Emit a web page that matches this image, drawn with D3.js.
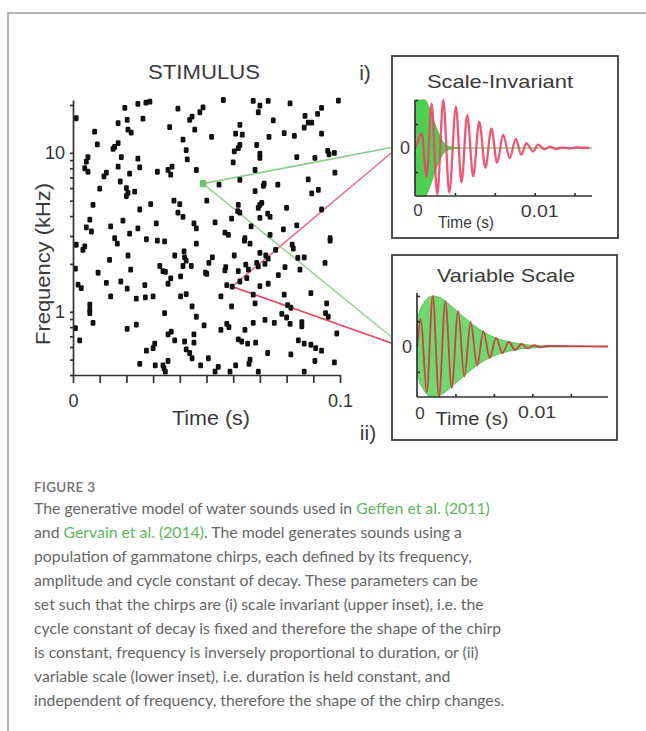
<!DOCTYPE html>
<html lang="en">
<head>
<meta charset="utf-8" />
<title>Figure 3 – gammatone chirp stimulus</title>
<script src="https://cdn.jsdelivr.net/npm/d3@7/dist/d3.min.js"></script>
<style>
  body{margin:0;background:#fff}
  svg{display:block;font-family:"Liberation Sans",Arial,sans-serif}
  .ax path,.ax line{stroke:#333;stroke-width:1.7;fill:none}
  .ax text{fill:#333;font-family:"Liberation Sans",Arial,sans-serif}
  .lbl{fill:#3a3a3a}
  .inset-box{fill:#fff;stroke:#3d3d3d;stroke-width:1.8}
  .caption{font-family:Lato,"Open Sans",sans-serif;font-size:15.8px;font-weight:400;fill:#666}
  .caption .link{fill:#5cb85c}
</style>
</head>
<body>
<svg id="fig" width="646" height="731"></svg>
<script>
// ---- stimulus raster: [time (ms), frequency (kHz)] ----
const stimulus=[
 [1.2,16.5],[19.4,19.2],[24.3,20.3],[27.3,20.7],[28.8,21.0],[26.2,16.4],[20.3,16.1],[16.9,15.4],[20.6,14.0],[21.8,13.4],
 [8.1,13.6],[9.1,11.3],[16.9,11.5],[15.6,10.9],[15.0,10.6],[18.1,9.4],[24.3,9.2],[5.6,9.4],[5.0,8.8],[4.4,8.0],
 [5.6,7.6],[16.9,8.2],[25.0,8.1],[21.2,7.4],[12.5,7.5],[11.6,7.1],[31.6,7.6],[35.6,7.8],[37.1,8.2],[36.6,7.3],
 [17.7,6.6],[10.0,5.95],[20.0,6.0],[20.6,5.6],[20.0,5.35],[23.1,5.7],[7.5,4.7],[25.0,4.4],[29.1,4.75],[37.8,5.0],
 [40.0,4.75],[39.3,4.2],[41.2,3.95],[6.3,3.8],[5.0,3.4],[6.9,3.2],[14.1,3.45],[18.7,3.75],[24.3,3.35],[31.2,3.6],
 [45.3,3.6],[46.2,3.35],[21.2,3.1],[39.3,19.0],[43.7,16.1],[44.6,16.9],[48.7,19.3],[47.5,18.0],[36.2,14.5],[45.6,14.0],
 [41.2,12.1],[42.4,10.4],[42.8,9.1],[46.2,7.8],
 [56.3,21.5],[67.5,21.2],[70.0,19.8],[69.4,18.0],[73.1,21.2],[81.3,20.5],[99.4,21.3],[93.1,19.2],[91.6,17.6],[86.9,17.1],
 [88.1,15.5],[86.6,14.4],[89.4,15.5],[75.0,16.0],[62.5,15.0],[51.9,12.6],[60.9,13.2],[63.4,13.0],[73.4,12.6],[79.1,13.3],
 [82.9,12.8],[93.1,13.2],[62.5,11.2],[61.9,10.7],[68.8,11.2],[60.4,10.2],[70.0,9.9],[70.0,9.3],[95.4,10.3],[95.9,9.8],
 [97.9,10.0],[83.8,9.4],[90.6,9.3],[60.0,8.7],[68.2,7.8],[98.1,7.5],[54.7,6.3],[62.5,6.75],[71.6,6.4],[71.3,6.2],
 [76.7,6.3],[88.1,6.8],[68.2,5.75],[91.9,5.85],[89.4,5.55],[50.1,5.0],[61.9,4.7],[61.7,4.3],[62.5,4.2],[70.0,4.7],
 [70.7,4.85],[69.4,4.5],[80.0,4.5],[93.1,4.4],[72.9,4.15],[73.8,3.95],[70.0,3.9],[59.4,3.85],[53.2,3.65],[66.7,3.45],
 [83.8,3.5],[78.8,3.3],[56.9,3.15],[58.2,3.05],[73.8,3.05],[64.4,2.9],[96.3,2.9],
 [15.6,2.9],[16.6,2.68],[27.5,2.86],[31.6,2.8],[34.3,2.77],[46.2,2.68],[1.2,2.64],[3.7,2.45],[4.4,2.58],[13.7,2.12],
 [20.6,2.26],[38.1,2.26],[41.6,2.4],[41.8,2.2],[42.4,2.1],[41.2,1.94],[0.9,1.87],[9.4,1.76],[21.6,1.84],[32.5,1.94],
 [33.7,1.8],[34.6,1.78],[44.3,1.94],[49.6,1.76],[36.6,1.62],[35.6,1.5],[40.3,1.67],[12.5,1.52],[17.9,1.55],[1.9,1.48],
 [3.1,1.41],[26.9,1.47],[20.3,1.40],[14.1,1.25],[23.7,1.21],[27.1,1.23],[30.0,1.25],[40.3,1.25],[42.4,1.29],[6.3,1.11],
 [6.3,1.03],[6.3,0.98],[44.6,1.08],[7.5,0.85],[34.3,0.98],[46.2,0.93],[49.1,0.82],[0.9,0.79],[20.3,0.78],[23.7,0.83],
 [35.6,0.72],[36.8,0.75],[2.5,0.66],[38.1,0.66],[41.8,0.65],[45.3,0.72],[45.3,0.64],[30.6,0.63],[30.0,0.59],[27.5,0.57],
 [42.4,0.58],[43.7,0.55],[44.6,0.51],[25.0,0.47],[30.8,0.46],[33.7,0.46],[34.1,0.44],[34.6,0.42],[35.6,0.49],[47.8,0.46],
 [64.2,2.8],[66.3,2.68],[82.1,2.64],[82.5,2.5],[96.3,2.8],[52.2,2.2],[50.9,2.03],[60.4,2.26],[70.0,2.35],[72.2,2.26],
 [73.1,2.16],[71.9,2.0],[75.9,2.45],[84.2,2.18],[86.6,2.2],[94.4,2.03],[57.2,1.91],[56.9,1.82],[61.9,1.8],[64.7,1.98],
 [65.7,1.84],[68.8,2.03],[69.4,1.93],[79.4,1.91],[85.0,1.84],[76.9,1.7],[50.1,1.73],[65.1,1.63],[62.5,1.55],[73.1,1.5],
 [70.0,1.45],[57.6,1.47],[59.6,1.44],[55.4,1.25],[59.4,1.08],[67.5,1.28],[68.2,1.13],[79.1,1.28],[89.1,1.31],[80.4,1.1],
 [81.6,1.06],[95.0,1.13],[94.6,0.98],[95.6,0.93],[78.2,0.97],[80.0,0.92],[81.3,0.84],[85.7,0.86],[85.7,0.81],[71.9,0.89],
 [67.5,0.85],[75.4,0.85],[57.6,0.84],[58.4,0.8],[55.4,0.77],[64.4,0.77],[98.8,0.73],[61.9,0.67],[63.2,0.65],[65.4,0.63],
 [68.4,0.64],[84.4,0.66],[86.6,0.63],[89.1,0.62],[90.9,0.59],[93.1,0.57],[72.9,0.55],[81.6,0.54],[50.7,0.51],[66.3,0.5],
 [65.9,0.47],[90.6,0.49],[97.9,0.48],[60.9,0.46],[54.4,0.45],[53.2,0.42],[69.4,0.42],[58.8,0.42],[86.6,0.42]
];
const greenChirp=[48.7,6.4];   // highlighted high-frequency chirp
const redChirp=[59.6,1.44];    // highlighted low-frequency chirp

// ---- upper inset (scale-invariant): time (ms) / amplitude ----
const siRedT=[0.08,0.53,0.93,1.33,1.79,2.27,2.75,3.28,3.73,4.19,4.67,5.15,5.65,6.13,6.59,7.07,7.6,8.08,8.53,8.93,9.47,9.87,10.4,10.8,11.33,11.87,12.4,12.93,14.0];
const siRedA=[0,0.3,-0.6,0.93,-0.97,1.0,-0.93,0.86,-0.72,0.69,-0.59,0.55,-0.41,0.41,-0.31,0.28,-0.21,0.19,-0.14,0.1,-0.07,0.07,-0.03,0.03,-0.02,0.015,-0.01,0.01,0];
const siGreenT=[0,0.13,0.8,1.2,1.6,2.0,2.4,2.93,3.6];
const siGreenA=[0.7,1.0,1.0,0.8,0.5,0.25,0.08,0.02,0];

// ---- lower inset (variable scale) ----
const vsRedT=[0.03,0.31,0.81,1.31,1.83,2.36,2.89,3.42,3.94,4.47,5.0,5.53,6.06,6.58,7.11,7.64,8.17,8.69,9.22,9.75,10.28,10.81,15.9];
const vsRedA=[0,0.55,-0.9,1.0,-1.0,0.9,-0.82,0.7,-0.6,0.48,-0.38,0.3,-0.23,0.17,-0.13,0.09,-0.07,0.05,-0.035,0.025,-0.015,0.01,0];
const vsGreenT=[0,0.11,0.53,0.94,1.36,2.06,2.75,3.58,4.42,5.25,6.08,6.92,7.75,8.58,9.42,10.25,11.36,12.5];
const vsGreenA=[0,0.6,0.85,0.97,1.0,0.95,0.82,0.65,0.48,0.33,0.22,0.14,0.09,0.05,0.03,0.015,0.005,0];

const freqTicks=[0.4,0.5,0.6,0.7,0.8,0.9,1,2,3,4,5,6,7,8,9,10,20];
const timeTicks=d3.range(0,11).map(i=>i/100);
const insetTicks=[0.0032,0.0064,0.0096,0.0128];

const captionLines=[
 [["The generative model of water sounds used in ",0],["Geffen et al. (2011)",1]],
 [["and ",0],["Gervain et al. (2014)",1],[". The model generates sounds using a",0]],
 [["population of gammatone chirps, each defined by its frequency,",0]],
 [["amplitude and cycle constant of decay. These parameters can be",0]],
 [["set such that the chirps are (i) scale invariant (upper inset), i.e. the",0]],
 [["cycle constant of decay is fixed and therefore the shape of the chirp",0]],
 [["is constant, frequency is inversely proportional to duration, or (ii)",0]],
 [["variable scale (lower inset), i.e. duration is held constant, and",0]],
 [["independent of frequency, therefore the shape of the chirp changes.",0]]
];

const svg=d3.select('#fig');

/* ---------- outer frame ---------- */
svg.append('path').attr('d','M8,731V13H646').attr('fill','none').attr('stroke','#9a9a9a').attr('stroke-width',1.5);

/* ---------- raster ---------- */
const x=d3.scaleLinear().domain([0,0.1]).range([73,340]);
const y=d3.scaleLog().domain([0.4,21.5]).range([375,100]);

// inset scales (needed for the connection lines)
const xU=d3.scaleLinear().domain([0,0.0142]).range([415,592]);
const yU=d3.scaleLinear().domain([-1,1]).range([196,100]);
const xL=d3.scaleLinear().domain([0,0.0159]).range([417,608]);
const yL=d3.scaleLinear().domain([-1,1]).range([397,296]);

const gx=x(greenChirp[0]/1000), gy=y(greenChirp[1]);
const rx=x(redChirp[0]/1000),  ry=y(redChirp[1]);
const links=[
  {x1:gx,y1:gy,x2:394,y2:yU(0)-1,c:'#86cf86'},
  {x1:gx,y1:gy,x2:397,y2:yL(0)-5,c:'#9ad49a'},
  {x1:rx,y1:ry,x2:396,y2:yU(0)+1,c:'#ea6f84'},
  {x1:rx,y1:ry,x2:401,y2:yL(0),c:'#e2455c'}
];
svg.append('g').selectAll('line').data(links).join('line')
  .attr('x1',d=>d.x1).attr('y1',d=>d.y1).attr('x2',d=>d.x2).attr('y2',d=>d.y2)
  .attr('stroke',d=>d.c).attr('stroke-width',1.6);

svg.append('g').selectAll('rect').data(stimulus).join('rect')
  .attr('x',d=>x(d[0]/1000)-2.4).attr('y',d=>y(d[1])-2.9)
  .attr('width',4.8).attr('height',5.8).attr('rx',1.3).attr('fill','#111');

svg.append('rect').attr('x',gx-3.2).attr('y',gy-3.6).attr('width',6.4).attr('height',7.2)
  .attr('rx',1.2).attr('fill','#6cc46c');

const xAxis=svg.append('g').attr('class','ax').attr('transform','translate(0,375)')
  .call(d3.axisBottom(x).tickValues(timeTicks).tickSize(8).tickSizeOuter(0).tickPadding(11)
    .tickFormat(d=>d===0?'0':Math.abs(d-0.1)<1e-9?'0.1':''));
xAxis.selectAll('text').attr('font-size',18);

const yAxis=svg.append('g').attr('class','ax').attr('transform','translate(73,0)')
  .call(d3.axisLeft(y).tickValues(freqTicks).tickSize(3).tickSizeOuter(0).tickPadding(5)
    .tickFormat(d=>d===1||d===10?d:''));
yAxis.selectAll('text').attr('font-size',18);

svg.append('text').attr('class','lbl').attr('x',204).attr('y',79).attr('text-anchor','middle')
  .attr('font-size',20).attr('textLength',112).attr('lengthAdjust','spacingAndGlyphs').text('STIMULUS');
svg.append('text').attr('class','lbl').attr('x',211).attr('y',425).attr('text-anchor','middle')
  .attr('font-size',20).attr('textLength',78).attr('lengthAdjust','spacingAndGlyphs').text('Time (s)');
svg.append('text').attr('class','lbl').attr('transform','translate(50,264) rotate(-90)').attr('text-anchor','middle')
  .attr('font-size',21).attr('textLength',162).attr('lengthAdjust','spacingAndGlyphs').text('Frequency (kHz)');
svg.append('text').attr('class','lbl').attr('x',365).attr('y',80).attr('text-anchor','middle').attr('font-size',21).text('i)');
svg.append('text').attr('class','lbl').attr('x',368).attr('y',440).attr('text-anchor','middle').attr('font-size',21).text('ii)');

/* ---------- insets ---------- */
function inset(o){
  svg.append('rect').attr('class','inset-box').attr('x',o.box[0]).attr('y',o.box[1])
    .attr('width',o.box[2]).attr('height',o.box[3]);
  svg.append('text').attr('class','lbl').attr('x',o.title[1]).attr('y',o.title[2]).attr('text-anchor','middle')
    .attr('font-size',19).attr('textLength',o.title[3]).attr('lengthAdjust','spacingAndGlyphs').text(o.title[0]);

  const gEnv=o.gT.map((t,i)=>[t,o.gA[i]]);
  const red=o.rT.map((t,i)=>[t,o.rA[i]]);
  const X=d=>o.x(d[0]/1000);

  // thin green baseline over the full length
  svg.append('line').attr('x1',o.x(0)).attr('x2',o.x.range()[1]).attr('y1',o.y(0)).attr('y2',o.y(0))
    .attr('stroke','#7fd07f').attr('stroke-width',1.4);
  svg.append('path').datum(gEnv)
    .attr('d',d3.area().x(X).y0(d=>o.y(-d[1])).y1(d=>o.y(d[1])).curve(d3.curveMonotoneX))
    .attr('fill',o.gFill).attr('stroke',o.gStroke).attr('stroke-width',0.8);
  svg.append('path').datum(red)
    .attr('d',d3.line().x(X).y(d=>o.y(d[1])).curve(d3.curveMonotoneX))
    .attr('fill','none').attr('stroke',o.rCol).attr('stroke-width',o.rW).attr('stroke-opacity',0.9);

  const ax=svg.append('g').attr('class','ax').attr('transform',`translate(0,${o.y.range()[0]})`)
    .call(d3.axisTop(o.x).tickValues(insetTicks).tickSize(3).tickSizeOuter(0).tickFormat(''));
  ax.select('path').attr('d',`M${o.x(0)},0H${o.x.range()[1]}`);
  const ay=svg.append('g').attr('class','ax').attr('transform',`translate(${o.x(0)},0)`)
    .call(d3.axisRight(o.y).tickValues([-0.5,0.5,1]).tickSize(3).tickSizeOuter(0).tickFormat(''));
  ay.select('path').attr('d',`M0,${o.y.range()[0]}V${o.yTop}`);

  svg.append('text').attr('class','lbl').attr('x',o.x(0)-10).attr('y',o.y(0)+6).attr('text-anchor','middle')
    .attr('font-size',18).text('0');
  svg.append('text').attr('class','lbl').attr('x',o.x(0)+3).attr('y',o.xl[0]).attr('text-anchor','middle')
    .attr('font-size',17).text('0');
  svg.append('text').attr('class','lbl').attr('x',o.x(0.01)).attr('y',o.xl[1]).attr('text-anchor','middle')
    .attr('font-size',17).attr('textLength',38).attr('lengthAdjust','spacingAndGlyphs').text('0.01');
  svg.append('text').attr('class','lbl').attr('x',o.tl[0]).attr('y',o.tl[1]).attr('text-anchor','middle')
    .attr('font-size',o.tl[3]).attr('textLength',o.tl[2]).attr('lengthAdjust','spacingAndGlyphs').text('Time (s)');
}

inset({box:[392,56,226,182],title:['Scale-Invariant',500,88,146],x:xU,y:yU,yTop:100,
  rT:siRedT,rA:siRedA,gT:siGreenT,gA:siGreenA,gFill:'#4fcf4f',gStroke:'#3fb83f',rCol:'#ee4466',rW:2.3,
  xl:[216,217],tl:[466,228,56,17]});
inset({box:[392,255,225,185],title:['Variable Scale',506,282,138],x:xL,y:yL,yTop:293,
  rT:vsRedT,rA:vsRedA,gT:vsGreenT,gA:vsGreenA,gFill:'#6fd86f',gStroke:'#3fbf3f',rCol:'#d8303c',rW:1.8,
  xl:[419,418],tl:[472,425,73,18]});

/* ---------- caption ---------- */
svg.append('text').attr('x',34).attr('y',492).attr('font-family','Lato,"Open Sans",sans-serif')
  .attr('font-size',13.5).attr('font-weight',600).attr('fill','#707070').attr('letter-spacing',0.3).text('FIGURE 3');

const cap=svg.append('g').attr('class','caption');
captionLines.forEach((parts,i)=>{
  const t=cap.append('text').attr('x',34).attr('y',514+i*24);
  parts.forEach(p=>t.append('tspan').attr('class',p[1]?'link':null).text(p[0]));
});
</script>
</body>
</html>
